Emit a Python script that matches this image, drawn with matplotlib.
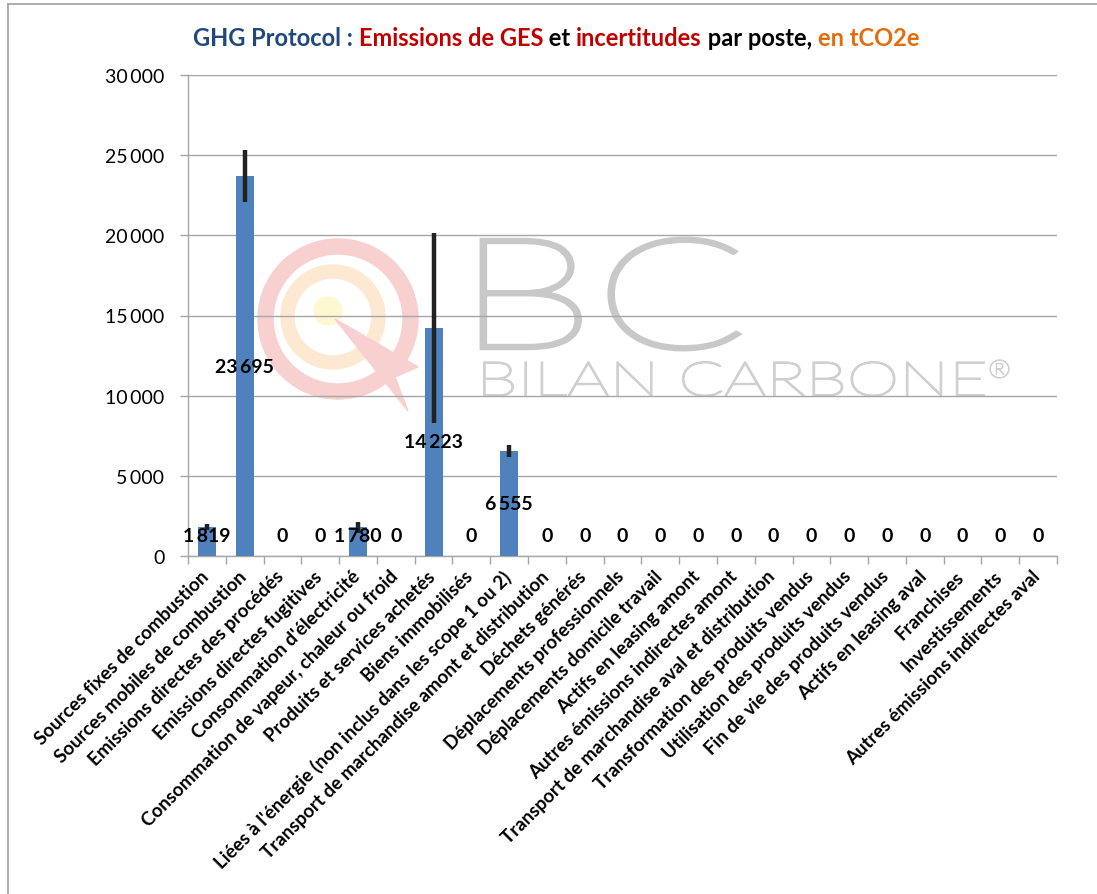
import matplotlib
matplotlib.use("Agg")
import matplotlib.pyplot as plt
from matplotlib.patches import Circle, Wedge, Polygon, PathPatch
from matplotlib.textpath import TextPath
from matplotlib.font_manager import FontProperties
from matplotlib.transforms import Affine2D, ScaledTranslation
from matplotlib.ticker import FuncFormatter
from matplotlib.lines import Line2D

categories = [
    "Sources fixes de combustion",
    "Sources mobiles de combustion",
    "Emissions directes des procédés",
    "Emissions directes fugitives",
    "Consommation d'électricité",
    "Consommation de vapeur, chaleur ou froid",
    "Produits et services achetés",
    "Biens immobilisés",
    "Liées à l'énergie (non inclus dans les scope 1 ou 2)",
    "Transport de marchandise amont et distribution",
    "Déchets générés",
    "Déplacements professionnels",
    "Déplacements domicile travail",
    "Actifs en leasing amont",
    "Autres émissions indirectes amont",
    "Transport de marchandise aval et distribution",
    "Transformation des produits vendus",
    "Utilisation des produits vendus",
    "Fin de vie des produits vendus",
    "Actifs en leasing aval",
    "Franchises",
    "Investissements",
    "Autres émissions indirectes aval",
]
values = [1819, 23695, 0, 0, 1780, 0, 14223, 0, 6555, 0, 0, 0, 0, 0, 0, 0, 0, 0, 0, 0, 0, 0, 0]
uncert = [200, 1600, 0, 0, 370, 0, 5950, 0, 370, 0, 0, 0, 0, 0, 0, 0, 0, 0, 0, 0, 0, 0, 0]
yticks = [0, 5000, 10000, 15000, 20000, 25000, 30000]

W, H = 1097, 895
fig = plt.figure(figsize=(W / 100, H / 100), dpi=100)
fig.patch.set_facecolor("white")

FONT = "Lato"
BAR = "#4F81BD"
GRID = "#A6A6A6"

def px(x, y):
    return x / W, 1 - y / H

# Figure border (left and top)
fig.add_artist(Line2D([8 / W, 8 / W], [0, 1 - 5 / H], transform=fig.transFigure, color="#A0A0A0", lw=1.2))
fig.add_artist(Line2D([8 / W, 1], [1 - 5 / H, 1 - 5 / H], transform=fig.transFigure, color="#A0A0A0", lw=1.2))

# Axes
x0, y0 = px(188, 557)
x1, y1 = px(1057, 76)
ax = fig.add_axes([x0, y0, x1 - x0, y1 - y0])
ax.set_facecolor("none")

# ---- watermark (figure-level, behind axes) ----
tr_px = Affine2D().scale(1 / W, 1 / H) + fig.transFigure
def fy(y):
    return H - y
wm = []
wm.append(Wedge((338, fy(320)), 80, 0, 360, width=15, color="#F9D0D0"))
wm.append(Wedge((333, fy(318)), 52, 0, 360, width=13, color="#FDE8D2"))
wm.append(Circle((328, fy(312)), 14, color="#FFF6D2"))
wm.append(Polygon([(335, fy(320)), (418, fy(368)), (395, fy(378)), (408, fy(412))], closed=True, color="#F9D0D0"))
for p in wm:
    p.set_transform(tr_px)
    p.set_zorder(-5)
    fig.add_artist(p)

def text_box(s, xa, ya, xb, yb, color, weight="light", lw=0.0):
    fp = FontProperties(family=FONT, weight=weight)
    tp = TextPath((0, 0), s, size=100, prop=fp)
    ext = tp.get_extents()
    sx = (xb - xa) / ext.width
    sy = (yb - ya) / ext.height
    t = Affine2D().translate(-ext.x0, -ext.y0).scale(sx, sy).translate(xa, fy(yb))
    patch = PathPatch(t.transform_path(tp), facecolor=color, edgecolor=color if lw else "none",
                      lw=lw, transform=tr_px, zorder=-4)
    fig.add_artist(patch)

text_box("BC", 482, 240, 738, 350, "#C8C8C8", lw=3.5)
text_box("BILAN CARBONE", 484, 363, 984, 397, "#D0D0D0", lw=1.4)
text_box("®", 990, 361, 1009, 379, "#D0D0D0", lw=0.8)

# ---- bars ----
xs = list(range(len(categories)))
ax.bar(xs, values, width=0.48, color=BAR, zorder=3)
ax.errorbar(xs, values, yerr=uncert, fmt="none", ecolor="#222222", elinewidth=3.2, capsize=0, zorder=4)

for i, v in enumerate(values):
    lab = f"{v:,}".replace(",", "\u2009")
    ax.text(i, max(v / 2, 1250), lab, ha="center", va="center", fontsize=14,
            fontweight="bold", family=FONT, color="black", zorder=5)

ax.set_xlim(-0.5, len(categories) - 0.5)
ax.set_ylim(0, 30000)
ax.set_yticks(yticks)
ax.yaxis.set_major_formatter(FuncFormatter(lambda v, p: f"{int(v):,}".replace(",", "\u2009")))
ax.grid(axis="y", color=GRID, lw=1.0, zorder=1)
ax.set_axisbelow(True)
for s in ["top", "right"]:
    ax.spines[s].set_visible(False)
for s in ["left", "bottom"]:
    ax.spines[s].set_color(GRID)
    ax.spines[s].set_linewidth(1.0)

ax.tick_params(axis="y", length=6, width=1, color=GRID, pad=11, labelsize=14)
for lbl in ax.get_yticklabels():
    lbl.set_family(FONT)

ax.set_xticks(xs)
ax.set_xticks([i - 0.5 for i in range(len(categories) + 1)], minor=True)
ax.tick_params(axis="x", which="major", length=0, pad=8)
ax.tick_params(axis="x", which="minor", length=6, width=1, color=GRID)
ax.set_xticklabels(categories, rotation=45, ha="right", va="top", rotation_mode="anchor",
                   fontsize=13.5, fontweight="bold", family=FONT)
off = ScaledTranslation(-7 / 100, 0, fig.dpi_scale_trans)
for lbl in ax.get_xticklabels():
    lbl.set_transform(lbl.get_transform() + off)

# ---- title with colored segments ----
segments = [
    ("GHG Protocol : ", "#1F497D"),
    ("Emissions de GES", "#C00000"),
    (" et ", "#000000"),
    ("incertitudes", "#C00000"),
    (" par poste, ", "#000000"),
    ("en tCO2e", "#E46C0A"),
]
fig.canvas.draw()
renderer = fig.canvas.get_renderer()
tmp = []
widths = []
for s, c in segments:
    t = fig.text(0, 0, s, fontsize=17, fontweight="bold", family=FONT, color=c)
    bb = t.get_window_extent(renderer)
    widths.append(bb.width)
    tmp.append(t)
total = sum(widths)
cx = 556
start = cx - total / 2
for t, w in zip(tmp, widths):
    t.set_position((start / W, 1 - 38 / H))
    t.set_va("center")
    start += w

fig.savefig("out.png", dpi=100, facecolor="white")
